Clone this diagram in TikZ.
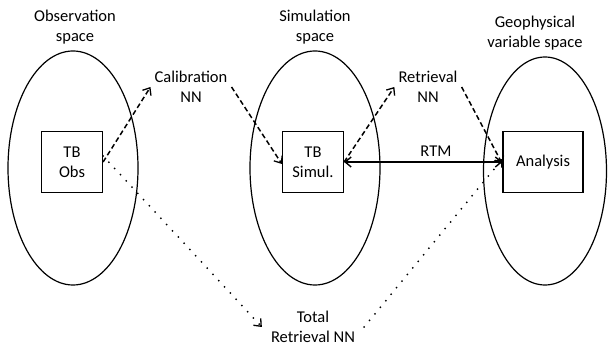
\documentclass[tikz,border=0pt]{standalone}
\usepackage{fontspec}
\setmainfont{Carlito}
\usetikzlibrary{shapes.geometric, arrows.meta, positioning}

\begin{document}
\begin{tikzpicture}[x=1pt, y=-1pt,
    font=\fontsize{16.5}{20}\selectfont,
    space/.style={draw, ellipse, line width=1.2pt, minimum width=130pt, minimum height=234pt},
    tbbox/.style={draw, line width=1.2pt, minimum width=61pt, minimum height=61pt, align=center},
    nnlabel/.style={align=center, inner sep=4pt},
    barb/.style={-{Straight Barb[length=6pt,width=10pt,line width=1.3pt]}},
    dashedarrow/.style={barb, line width=1.5pt, dash pattern=on 5pt off 3pt},
    dottedarrow/.style={barb, line width=2pt, line cap=round, dash pattern=on 0pt off 8.5pt}]
        \useasboundingbox (0,0) rectangle (608,347);

        % the three spaces
        \node[space] (obsspace) at (73,168) {};
        \node[space] (simspace) at (315,168) {};
        \node[space, minimum width=123pt, minimum height=228pt] (geospace) at (545,171) {};
        \node[align=center] (obstitle) at (75,27) {Observation\\space};
        \node[align=center] (simtitle) at (315,27) {Simulation\\space};
        \node[align=center] (geotitle) at (535,33) {Geophysical\\variable space};

        % brightness temperatures and analysis
        \node[tbbox] (obs) at (72,162) {TB\\Obs};
        \node[tbbox] (simul) at (313,162) {TB\\Simul.};
        \node[tbbox, minimum width=80pt] (analysis) at (543,162) {Analysis};

        % neural networks
        \node[nnlabel] (calib) at (191,87) {Calibration\\NN};
        \node[nnlabel] (retr) at (428,87) {Retrieval\\NN};
        \node[nnlabel, inner sep=9pt] (total) at (313,327) {Total\\Retrieval NN};

        \draw[dashedarrow] (obs.east) -- (calib.west);
        \draw[dashedarrow] (calib.east) -- ([yshift=-2pt]simul.west);
        \draw[dashedarrow] (simul.east) -- (retr.west);
        \draw[dashedarrow] (retr.east) -- ([yshift=-2pt]analysis.west);
        \draw[{Straight Barb[length=6pt,width=10pt]}-{Straight Barb[length=6pt,width=10pt]}, line width=1.4pt]
            (simul.east) -- node[pos=0.58, above=1pt] {RTM} (analysis.west);
        \draw[dottedarrow] ([yshift=6pt]obs.east) -- (total.west);
        \draw[dottedarrow] (total.east) -- ([yshift=3pt]analysis.west);
      \end{tikzpicture}
\end{document}
